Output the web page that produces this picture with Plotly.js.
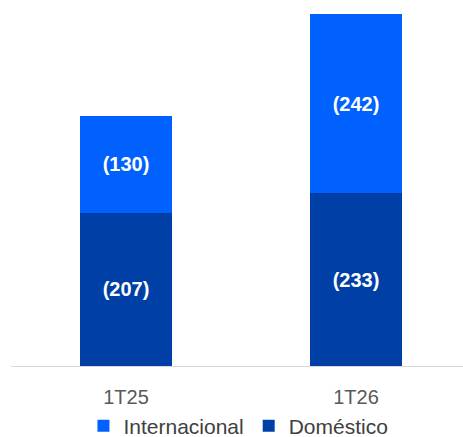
<!DOCTYPE html>
<html>
<head>
<meta charset="utf-8">
<script src="https://cdn.plot.ly/plotly-3.0.1.min.js"></script>
<style>html,body{margin:0;padding:0;background:#fff;}#chart{width:463px;height:437px;}</style>
</head>
<body>
<div id="chart"></div>
<script>
const categories = ["1T25", "1T26"];
const domestico = [207, 233];
const internacional = [130, 242];
const seriesNames = ["Doméstico", "Internacional"];

const fontFam = "Liberation Sans, Arial, sans-serif";
const traces = [
  {
    type: "bar", name: seriesNames[0], x: categories, y: domestico,
    marker: {color: "#0040A6"},
    texttemplate: "(%{y})", textposition: "inside", insidetextanchor: "middle",
    textfont: {color: "#ffffff", size: 20, family: fontFam, weight: "bold"},
    hoverinfo: "skip", width: 0.4
  },
  {
    type: "bar", name: seriesNames[1], x: categories, y: internacional,
    marker: {color: "#0061FE"},
    texttemplate: "(%{y})", textposition: "inside", insidetextanchor: "middle",
    textfont: {color: "#ffffff", size: 20, family: fontFam, weight: "bold"},
    hoverinfo: "skip", width: 0.4
  }
];

const layout = {
  width: 463, height: 437,
  margin: {l: 11, r: 0, t: 14, b: 71, pad: 0},
  barmode: "stack",
  paper_bgcolor: "#ffffff", plot_bgcolor: "#ffffff",
  font: {family: fontFam, color: "#595959"},
  showlegend: true,
  legend: {
    orientation: "h", traceorder: "reversed",
    xref: "container", yref: "container",
    x: 0.515, xanchor: "center", y: 0.025, yanchor: "middle",
    font: {size: 21, color: "#404040", family: fontFam},
    itemwidth: 30, tracegroupgap: 0
  },
  xaxis: {
    type: "category", range: [-0.5, 1.465],
    showline: true, linecolor: "#D9D9D9", linewidth: 1,
    ticks: "", showgrid: false, zeroline: false,
    ticklabelstandoff: 13,
    tickfont: {size: 20, color: "#595959", family: fontFam},
    fixedrange: true
  },
  yaxis: {
    range: [0, 475], visible: false, showgrid: false, zeroline: false, fixedrange: true
  }
};

Plotly.newPlot("chart", traces, layout, {displayModeBar: false, staticPlot: true});
</script>
</body>
</html>
